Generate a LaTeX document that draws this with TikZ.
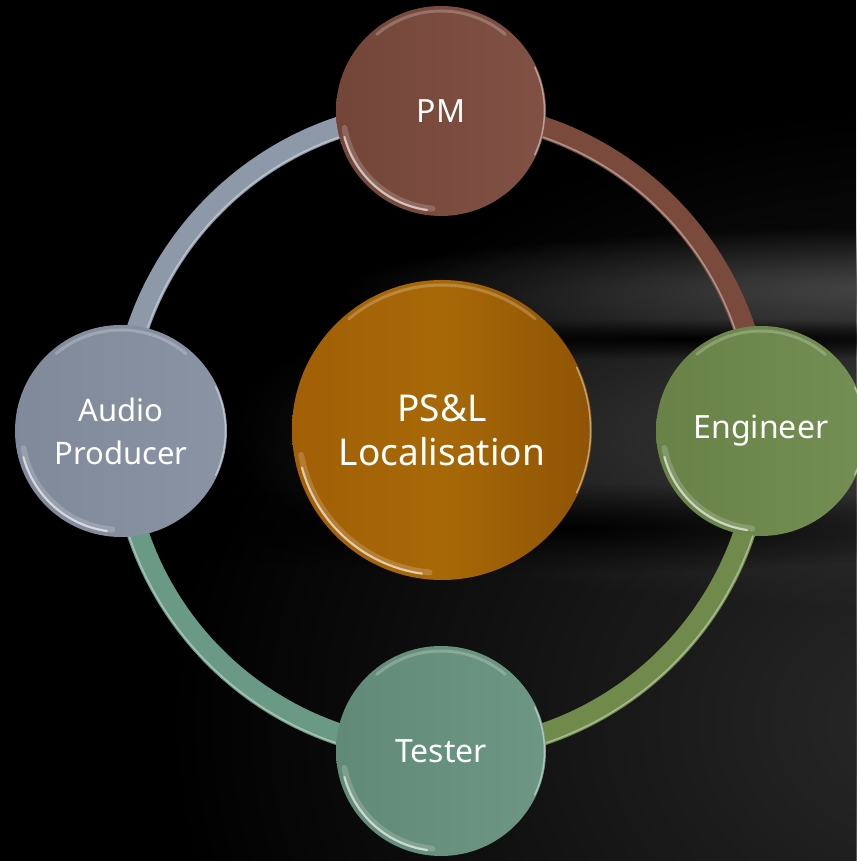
\documentclass[tikz,border=0pt]{standalone}
\usepackage{fontspec}
\setmainfont{Noto Sans}
\usetikzlibrary{fadings}
\tikzfading[name=blob, inner color=transparent!0, outer color=transparent!100]
\definecolor{cpm}{HTML}{7B4A3C}
\definecolor{ceng}{HTML}{6E8A4C}
\definecolor{ctest}{HTML}{67937F}
\definecolor{caud}{HTML}{858FA0}
\definecolor{ccen}{HTML}{A25F07}
\definecolor{rgray}{HTML}{8D99A9}
\definecolor{rbrown}{HTML}{7A4A3C}
\definecolor{rolive}{HTML}{6F8A4A}
\definecolor{rteal}{HTML}{6A9A86}
\begin{document}
\begin{tikzpicture}[x=1pt,y=1pt,
  ball/.style={circle, inner sep=0pt, text=white, align=center, font=\fontsize{32}{43}\selectfont},
  band/.style={line width=22pt},
  bandhl/.style={line width=1.6pt, white, opacity=0.4},
  rimwide/.style={line width=6pt, white, opacity=0.18, line cap=round},
  rimlow/.style={line width=2.2pt, white, opacity=0.6, line cap=round},
  rimtop/.style={line width=3pt, white, opacity=0.22, line cap=round},
  rimright/.style={line width=1.5pt, white, opacity=0.45, line cap=round},
  glow/.style={path fading=blob}]
% background
\fill[black] (0,0) rectangle (856,861);
\useasboundingbox (0,0) rectangle (856,861);
\fill[glow, black!84] (920,140) ellipse[x radius=760, y radius=620];
\fill[glow, black!76] (920,430) ellipse[x radius=700, y radius=180];
\fill[glow, black!72] (920,572) ellipse[x radius=580, y radius=62];
\fill[glow, black] (560,333) ellipse[x radius=460, y radius=45];
\fill[glow, black] (700,522) ellipse[x radius=600, y radius=20];
% anchor coordinates
\coordinate (pmc) at (441,750);
\coordinate (engc) at (761,430);
\coordinate (testc) at (441,110);
\coordinate (audc) at (121,430);
\coordinate (cenc) at (442,431);
% ring connectors
\draw[band, rgray] (audc) arc[start angle=180, end angle=90, radius=320];
\draw[band, rbrown] (pmc) arc[start angle=90, end angle=0, radius=320];
\draw[band, rolive] (engc) arc[start angle=0, end angle=-90, radius=320];
\draw[band, rteal] (testc) arc[start angle=270, end angle=180, radius=320];
\draw[bandhl] ([xshift=9pt]audc) arc[start angle=180, end angle=90, radius=311];
\draw[bandhl] ([yshift=-9pt]pmc) arc[start angle=90, end angle=0, radius=311];
\draw[bandhl] ([xshift=9pt]engc) arc[start angle=0, end angle=-90, radius=329];
\draw[bandhl] ([yshift=-9pt]testc) arc[start angle=270, end angle=180, radius=329];
% circles
\node[ball, minimum size=210pt, left color=cpm!94!black, right color=cpm!96!white] (pm) at (pmc) {PM};
\node[ball, minimum size=210pt, left color=ceng!94!black, right color=ceng!96!white] (eng) at (engc) {Engineer};
\node[ball, minimum size=210pt, left color=ctest!94!black, right color=ctest!96!white] (test) at (testc) {Tester};
\node[ball, minimum size=212pt, left color=caud!96!black, right color=caud!96!white, font=\fontsize{31}{43}\selectfont] (aud) at (audc) {Audio\\Producer};
\node[ball, minimum size=300pt, left color=ccen, right color=ccen!88!black, middle color=ccen!94!yellow, font=\fontsize{37}{44}\selectfont] (cen) at (cenc) {PS\&L\\Localisation};
% gloss
\foreach \n/\r in {pm/105, eng/105, test/105, aud/106, cen/150}{
  \draw[rimwide] (\n.center) ++(190:\r-7) arc[start angle=190, end angle=265, radius=\r-7];
  \draw[rimlow] (\n.center) ++(195:\r-5) arc[start angle=195, end angle=262, radius=\r-5];
  \draw[rimtop] (\n.center) ++(50:\r-5) arc[start angle=50, end angle=130, radius=\r-5];
  \draw[rimright] (\n.center) ++(-25:\r-1.5) arc[start angle=-25, end angle=25, radius=\r-1.5];
}
\end{tikzpicture}
\end{document}
